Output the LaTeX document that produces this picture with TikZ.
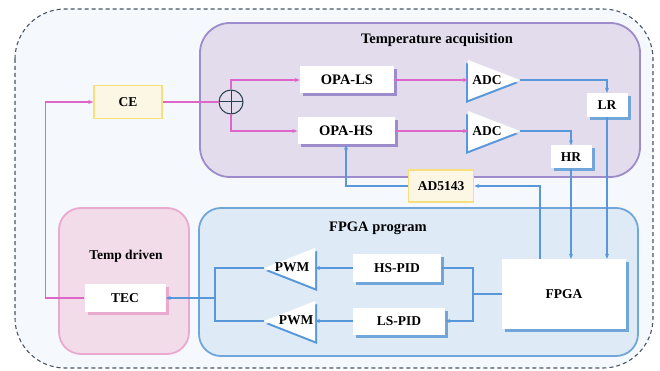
\documentclass[tikz,border=0pt]{standalone}
\usepackage{fontspec}
\setmainfont{Liberation Serif}
\usetikzlibrary{arrows.meta, shadows}

\definecolor{pinkline}{RGB}{222,102,200}
\definecolor{blueline}{RGB}{88,152,218}
\definecolor{acqfill}{RGB}{226,220,236}
\definecolor{acqdraw}{RGB}{156,140,204}
\definecolor{fpgafill}{RGB}{222,235,247}
\definecolor{fpgadraw}{RGB}{112,166,218}
\definecolor{drvfill}{RGB}{243,220,234}
\definecolor{drvdraw}{RGB}{234,170,207}
\definecolor{cefill}{RGB}{252,246,228}
\definecolor{cedraw}{RGB}{249,222,124}
\definecolor{outerfill}{RGB}{245,248,252}
\definecolor{outerdraw}{RGB}{72,86,100}
\definecolor{sumdraw}{RGB}{40,64,78}

\begin{document}
\begin{tikzpicture}[x=1pt, y=-1pt,
  every node/.style={font=\bfseries\fontsize{13.5}{16}\selectfont, inner sep=0pt},
  bigtext/.style={font=\bfseries\fontsize{14.5}{17}\selectfont},
  blk/.style={shape=rectangle, fill=white, minimum height=27pt},
  acqblk/.style={blk, bigtext, general shadow={fill=acqdraw, shadow xshift=3pt, shadow yshift=-3pt}},
  fpgablk/.style={blk, general shadow={fill=fpgadraw, shadow xshift=3pt, shadow yshift=-3pt}},
  drvblk/.style={blk, general shadow={fill=drvdraw, shadow xshift=3pt, shadow yshift=-3pt}},
  yelblk/.style={shape=rectangle, draw=cedraw, fill=cefill, line width=1.5pt},
  region/.style={line width=1.8pt},
  pinkarrow/.style={draw=pinkline, line width=1.2pt, -{Stealth[length=5pt, width=4pt]}},
  bluearrow/.style={draw=blueline, line width=1.2pt, -{Stealth[length=5pt, width=4pt]}},
  bluewire/.style={draw=blueline, line width=1.2pt},
]
        % TEC control loop
\useasboundingbox (0,0) rectangle (660,371);

\draw[outerdraw, dash pattern=on 4pt off 3pt, line width=1.1pt, fill=outerfill,
  rounded corners=50pt] (15,9) rectangle (653,368);

\draw[region, draw=acqdraw, fill=acqfill, rounded corners=30pt] (200,23) rectangle (640,177);
\draw[region, draw=fpgadraw, fill=fpgafill, rounded corners=22pt] (199,208) rectangle (638,356);
\draw[region, draw=drvdraw, fill=drvfill, rounded corners=22pt] (59,208) rectangle (189,354);

\node[bigtext] at (437,40)
(acqtitle) {Temperature acquisition};
\node[bigtext] at (378,228)
(fpgatitle) {FPGA program};
\node at (126,256)
(drvtitle) {Temp driven};

\node[yelblk, minimum width=68pt, minimum height=33pt] at (128,102)
(ce) {CE};

\node[shape=circle, draw=sumdraw, line width=1pt, minimum size=24pt,
  path picture={\draw[sumdraw, line width=1pt]
    (path picture bounding box.north) -- (path picture bounding box.south)
    (path picture bounding box.west) -- (path picture bounding box.east);}] at (231,102)
(sum) {};

\node[acqblk, minimum width=94pt] at (347,80)
(opals) {OPA-LS};
\node[acqblk, minimum width=97pt] at (346,131)
(opahs) {OPA-HS};

\node[fpgablk, minimum width=41pt, minimum height=24pt] at (607,105)
(lr) {LR};
\node[fpgablk, minimum width=41pt, minimum height=23pt] at (571,157)
(hr) {HR};

\node[yelblk, minimum width=65pt, minimum height=32pt] at (441,186)
(ad) {AD5143};

\node[fpgablk, minimum width=124pt, minimum height=70pt] at (564,294)
(fpga) {FPGA};
\node[fpgablk, minimum width=88pt, minimum height=28pt] at (397,268)
(hspid) {HS-PID};
\node[fpgablk, minimum width=92pt, minimum height=27pt] at (399,321)
(lspid) {LS-PID};

\node[drvblk, minimum width=81pt, minimum height=28pt] at (125,298)
(tec) {TEC};

% converters, pointing right
\foreach \y/\n in {60/adcl, 111/adch} {
  \fill[blueline, shift={(-2,3)}] (468,\y) -- (468,\y+40) -- (520,\y+20) -- cycle;
  \fill[white] (468,\y) -- (468,\y+40) -- (520,\y+20) -- cycle;
  \coordinate (\n-in) at (468,\y+20);
  \coordinate (\n-out) at (520,\y+20);
  \node at (487,\y+20) (\n) {ADC};
}

% modulators, pointing left
\foreach \y/\n/\tx in {248/pwmh/292, 301/pwml/296} {
  \fill[blueline, shift={(2,3)}] (315,\y) -- (315,\y+40) -- (264,\y+20) -- cycle;
  \fill[white] (315,\y) -- (315,\y+40) -- (264,\y+20) -- cycle;
  \coordinate (\n-in) at (315,\y+20);
  \coordinate (\n-out) at (264,\y+20);
  \node at (\tx,\y+19) (\n) {PWM};
}

\coordinate (fpgaup) at (540,259);
\coordinate (pidsplit) at (473,294);
\coordinate (pwmjoin) at (215,298);

\draw[draw=pinkline, line width=1.2pt] (ce.east) -- (sum.west);
\draw[pinkarrow] (sum.north) |- (opals.west);
\draw[pinkarrow] (sum.south) |- (opahs.west);
\draw[pinkarrow] (opals.east) -- (adcl-in);
\draw[pinkarrow] (opahs.east) -- (adch-in);
\draw[pinkarrow] (tec.west) -- ++(-39,0) |- (ce.west);

\draw[bluearrow] (adcl-out) -| (lr.north);
\draw[bluearrow] (adch-out) -| (hr.north);
\draw[bluearrow] (lr.south) -- (lr.south |- fpga.north);
\draw[bluearrow] (hr.south) -- (hr.south |- fpga.north);
\draw[bluearrow] (fpgaup) |- (ad.east);
\draw[bluearrow] (ad.west) -| (opahs.south);

\draw[bluewire] (fpga.west) -- (pidsplit);
\draw[bluearrow]
  (pidsplit) |- (hspid.east)
  (pidsplit) |- (lspid.east)
;
\draw[bluearrow] (hspid.west) -- (pwmh-in);
\draw[bluearrow] (lspid.west) -- (pwml-in);
\draw[bluewire] (pwmh-out) -| (pwmjoin) |- (pwml-out);
\draw[bluearrow] (pwmjoin) -- (tec.east);
      \end{tikzpicture}
\end{document}
